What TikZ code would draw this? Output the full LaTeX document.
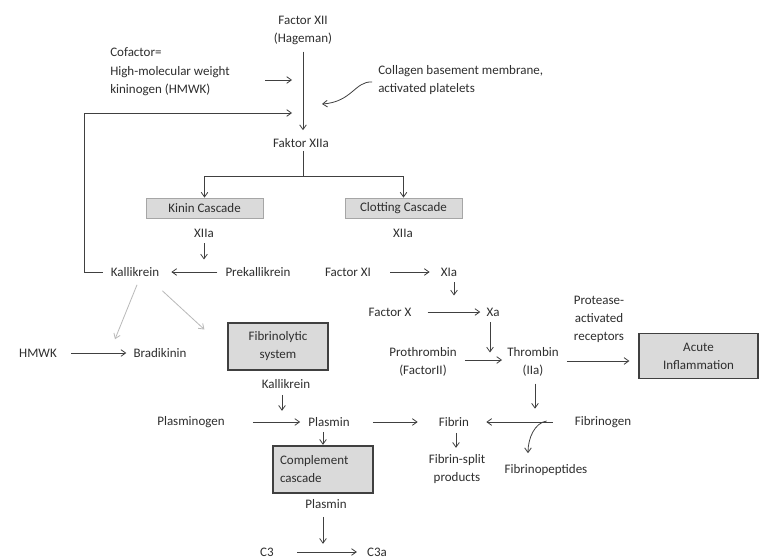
\documentclass[tikz,border=0pt]{standalone}
\usepackage{fontspec}
\setmainfont{Carlito}
\usetikzlibrary{arrows.meta,calc}
\definecolor{tc}{HTML}{2E2E2E}
\definecolor{lc}{HTML}{404040}
\definecolor{bf}{HTML}{DADADA}
\begin{document}
\begin{tikzpicture}[x=0.75pt,y=-0.75pt,
  txt/.style={inner sep=0pt,text=tc,font=\fontsize{9.75}{13.5}\selectfont,align=center},
  txtl/.style={txt,align=left},
  conn/.style={draw=lc,line width=0.6pt,-{Straight Barb[length=3.5pt,width=5pt]}},
  plain/.style={draw=lc,line width=0.6pt},
  lightconn/.style={conn,draw=gray!55},
  lightbox/.style={txt,draw=gray!70,line width=0.6pt,fill=bf,minimum height=15pt},
  darkbox/.style={txt,draw=lc,line width=0.9pt,fill=bf}]
\fill[white] (0,0) rectangle (760,560);
\useasboundingbox (0,0) rectangle (760,560);

% text nodes
\node[txt] (fxii) at (303,30) {Factor XII\\(Hageman)};
\node[txtl,anchor=west] (cof) at (110,71.5) {Cofactor=\\[1pt]High-molecular weight\\kininogen (HMWK)};
\node[txtl,anchor=west] (coll) at (378,80.5) {Collagen basement membrane,\\activated platelets};
\node[txt] (fxiia) at (301,143) {Faktor XIIa};
\node[lightbox,minimum width=87.75pt] (kinin) at (204.5,208) {Kinin Cascade};
\node[lightbox,minimum width=87.75pt] (clot) at (403.5,208) {Clotting Cascade};
\node[txt] (xiia1) at (204,233) {XIIa};
\node[txt] (xiia2) at (403,233) {XIIa};
\node[txt] (kal) at (135,272) {Kallikrein};
\node[txt] (prek) at (258,272) {Prekallikrein};
\node[txt] (fxi) at (348,272) {Factor XI};
\node[txt] (fxia) at (449,272) {XIa};
\node[txt] (fx) at (390,312) {Factor X};
\node[txt] (xa) at (493,312) {Xa};
\node[txt] (prot) at (599,319.5) {Protease-\\activated\\receptors};
\node[txt] (proth) at (423,361.5) {Prothrombin\\(FactorII)};
\node[txt] (thromb) at (533,362) {Thrombin\\(IIa)};
\node[darkbox,minimum width=89.25pt,minimum height=33.75pt] (acute) at (698.5,356) {Acute\\Inflammation};
\node[txt] (hmwk) at (38,353) {HMWK};
\node[txt] (brad) at (160,353) {Bradikinin};
\node[darkbox,minimum width=75pt,minimum height=35.25pt] (fibsys) at (278,346.5) {Fibrinolytic\\system};
\node[txt] (kal2) at (286,384) {Kallikrein};
\node[txt] (plgn) at (191,422) {Plasminogen};
\node[txt] (plasmin) at (329,422) {Plasmin};
\node[txt] (fibrin) at (454,422) {Fibrin};
\node[txt] (fibgen) at (603,422) {Fibrinogen};
\node[txt] (fibsplit) at (457,469) {Fibrin-split\\products};
\node[txt] (fibpep) at (546,470) {Fibrinopeptides};
\node[darkbox,align=left,text width=64.5pt,inner xsep=5.25pt,minimum height=35.25pt] (comp) at (323,469.5) {Complement\\cascade};
\node[txt] (plasmin2) at (326,504) {Plasmin};
\node[txt] (c3) at (267,552) {C3};
\node[txt] (c3a) at (377,552) {C3a};

% free end points
\coordinate (cofend) at (292,80);
\coordinate (fbend) at (292,113);
\coordinate (collend) at (322,104);
\coordinate (split) at (303,176);

% connectors
\draw[conn] ($(fxii.south)+(0,7)$) -- ($(fxii.south |- fxiia.north)+(0,-8)$);
\draw[conn] ($(cofend)+(-27,0)$) -- (cofend);
\draw[conn] ($(kal.west)+(-8,0)$) -- ++(-18,0) |- (fbend);
\draw[conn] ($(coll.west)+(-6,1.5)$) .. controls +(-17,-1) and +(30,-2) .. (collend);
\draw[plain] ($(fxii.south |- fxiia.south)+(0,3)$) -- (split);
\draw[conn] (split) -| (kinin.north);
\draw[conn] (split) -| (clot.north);
\draw[conn] ($(xiia1.south)+(0,6)$) -- ++(0,16);
\draw[conn] ($(prek.west)+(-8,0)$) -- ($(kal.east)+(12,0)$);
\draw[lightconn] ($(kal.south)+(2,8)$) -- ($(brad.north)+(-45,-9)$);
\draw[lightconn] ($(kal.south east)+(3,14)$) -- ($(fibsys.west)+(-23,-17)$);
\draw[conn] ($(hmwk.east)+(14,0)$) -- ($(brad.west)+(-7,0)$);
\draw[conn] ($(fxi.east)+(19,0)$) -- ($(fxia.west)+(-11,0)$);
\draw[conn] ($(fxia.south)+(5,6)$) -- ++(0,13);
\draw[conn] ($(fx.east)+(16,0)$) -- ($(xa.west)+(-6,0)$);
\draw[conn] ($(xa.south)+(-3,6)$) -- ++(0,30);
\draw[conn] ($(proth.east)+(8,-1.5)$) -- ($(thromb.west |- proth.east)+(-5,-1.5)$);
\draw[conn] ($(thromb.east)+(8,-1)$) -- ($(acute.west |- thromb.east)+(-9,-1)$);
\draw[conn] ($(thromb.south)+(2,7)$) -- ++(0,25);
\draw[conn] ($(fibgen.west)+(-22,0)$) -- ($(fibrin.east)+(17,0)$);
\draw[conn] ($(fibgen.west)+(-28,-1)$) .. controls +(-12,2) and +(0,-15) .. ($(fibpep.north)+(-18,-11)$);
\draw[conn] ($(plgn.east)+(28,0)$) -- ($(plasmin.west)+(-8,0)$);
\draw[conn] ($(kal2.south)+(-4,6)$) -- ++(0,16);
\draw[conn] ($(plasmin.east)+(23,0)$) -- ($(fibrin.west)+(-21,0)$);
\draw[conn] ($(plasmin.south)+(-6,5)$) -- ($(plasmin.south -| comp.north)+(0,18)$);
\draw[conn] ($(fibrin.south)+(2,6)$) -- ++(0,15);
\draw[conn] ($(plasmin2.south)+(-3,8)$) -- ++(0,27);
\draw[conn] ($(c3.east)+(23,0)$) -- ($(c3a.west)+(-10,0)$);
\end{tikzpicture}
\end{document}
